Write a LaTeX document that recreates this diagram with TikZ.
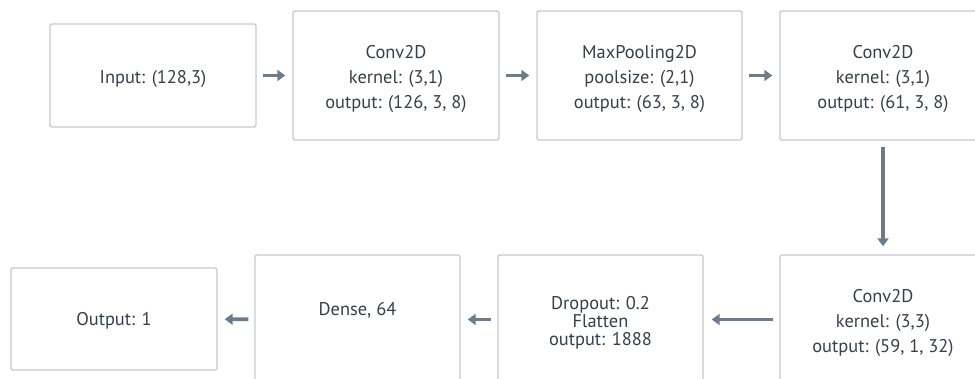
\documentclass[tikz,border=0pt]{standalone}
\usepackage{fontspec}
\setmainfont{PT Sans}
\usetikzlibrary{arrows.meta}
\definecolor{txtcol}{HTML}{36404A}
\definecolor{boxline}{HTML}{C3CBD3}
\definecolor{arrcol}{HTML}{6E7C89}
\tikzset{
  layer/.style={draw=boxline, line width=1.4pt, rounded corners=2pt, fill=white,
    minimum width=206pt, minimum height=129pt, inner sep=0pt},
  lbl/.style={text=txtcol, align=center, inner sep=0pt, font=\fontsize{18.4}{25}\selectfont},
  flow/.style={draw=arrcol, line width=3.6pt,
    -{Triangle[length=8pt, width=11pt]}, shorten <=6pt, shorten >=7pt}
}
\begin{document}
\begin{tikzpicture}[x=1pt, y=-1pt]
  \useasboundingbox (0,0) rectangle (975,379);
  \clip (0,0) rectangle (975,379);
  % top row
  \node[layer, minimum height=103pt] (in) at (153,75.5) {};
  \node[layer] (c1) at (396,75.5) {};
  \node[layer, minimum width=205pt] (mp) at (639.5,75.5) {};
  \node[layer] (c2) at (883,75.5) {};
  % bottom row
  \node[layer] (c3) at (883,319.5) {};
  \node[layer, minimum width=205pt] (dr) at (600.5,319.5) {};
  \node[layer, minimum width=205pt] (de) at (357.5,319.5) {};
  \node[layer, minimum height=102pt] (out) at (114,319) {};
  % texts
  \node[lbl] (inT) at ([yshift=-3pt]in.center) {Input: (128,3)};
  \node[lbl] (c1T) at ([yshift=-3pt]c1.center) {Conv2D\\kernel: (3,1)\\output: (126, 3, 8)};
  \node[lbl] (mpT) at ([yshift=-3pt]mp.center) {MaxPooling2D\\poolsize: (2,1)\\output: (63, 3, 8)};
  \node[lbl] (c2T) at ([yshift=-3pt]c2.center) {Conv2D\\kernel: (3,1)\\output: (61, 3, 8)};
  \node[lbl] (c3T) at ([yshift=-3pt]c3.center) {Conv2D\\kernel: (3,3)\\output: (59, 1, 32)};
  \node[lbl, font=\fontsize{18.4}{18}\selectfont] (drT) at ([yshift=-3pt]dr.center) {Dropout: 0.2\\Flatten\\output: 1888};
  \node[lbl] (deT) at ([yshift=9pt]de.center) {Dense, 64};
  \node[lbl] (outT) at ([yshift=-2pt]out.center) {Output: 1};
  % connectors
  \draw[flow] (in) -- (c1);
  \draw[flow] (c1) -- (mp);
  \draw[flow] (mp) -- (c2);
  \draw[flow, shorten >=8pt] (c2) -- (c3);
  \draw[flow, shorten >=8pt] (c3) -- (dr);
  \draw[flow] (dr) -- (de);
  \draw[flow] (de) -- (out);
\end{tikzpicture}
\end{document}
